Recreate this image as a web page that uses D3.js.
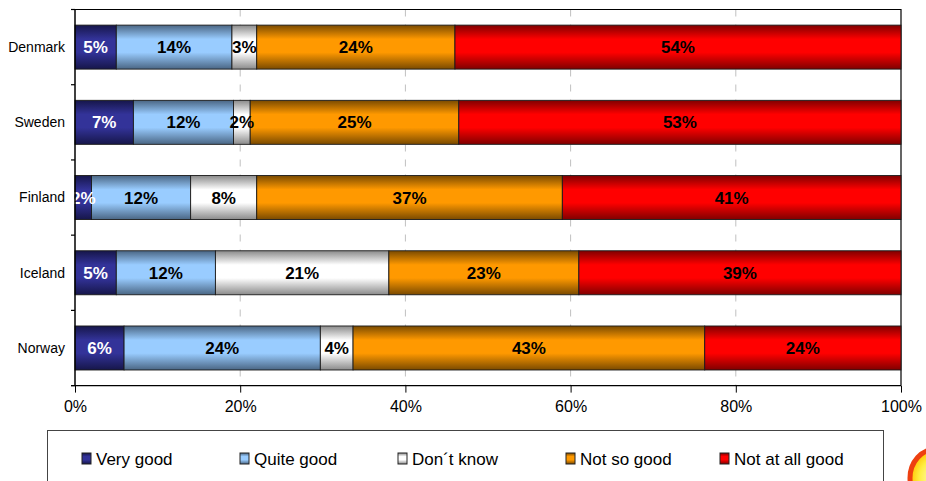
<!DOCTYPE html>
<html>
<head>
<meta charset="utf-8">
<script src="https://cdn.jsdelivr.net/npm/d3@7"></script>
<style>
  html, body { margin: 0; padding: 0; background: #fff; }
  svg { display: block; font-family: "Liberation Sans", Arial, sans-serif; }
</style>
</head>
<body>
<svg id="chart" width="926" height="481"></svg>
<script>
// Survey answers per country, in percent
const countries = ["Denmark", "Sweden", "Finland", "Iceland", "Norway"];
const answers = ["Very good", "Quite good", "Don\u00b4t know", "Not so good", "Not at all good"];
const veryGood    = [5, 7, 2, 5, 6];
const quiteGood   = [14, 12, 12, 12, 24];
const dontKnow    = [3, 2, 8, 21, 4];
const notSoGood   = [24, 25, 37, 23, 43];
const notAtAllGood = [54, 53, 41, 39, 24];
const xTicks = [0, 0.2, 0.4, 0.6, 0.8, 1];

const seriesValues = [veryGood, quiteGood, dontKnow, notSoGood, notAtAllGood];
const colors = ["#333399", "#99ccff", "#ffffff", "#ff9900", "#ff0000"];
const edgeColors = ["#16164a", "#4a6684", "#8a8a8a", "#7a4a00", "#800000"];
const labelColors = ["#ffffff", "#000000", "#000000", "#000000", "#000000"];

// rows normalised to 100% like a percent-stacked bar chart
const rows = countries.map((c, i) => {
  const row = { country: c };
  answers.forEach((a, k) => row[a] = seriesValues[k][i]);
  return row;
});
const stacked = d3.stack().keys(answers).offset(d3.stackOffsetExpand)(rows);

const svg = d3.select("#chart");
const plotLeft = 75, plotRight = 901, plotTop = 9.5, plotBottom = 385.6;

const x = d3.scaleLinear().domain([0, 1]).range([plotLeft, plotRight]);
const y = d3.scaleBand().domain(countries).range([plotTop, plotBottom])
  .paddingInner(0.415).paddingOuter(0.2075);

// cylinder-like vertical gradients for each answer
const defs = svg.append("defs");
answers.forEach((a, k) => {
  const g = defs.append("linearGradient").attr("id", "grad" + k)
    .attr("x1", 0).attr("y1", 0).attr("x2", 0).attr("y2", 1);
  g.append("stop").attr("offset", "0%").attr("stop-color", edgeColors[k]);
  g.append("stop").attr("offset", "32%").attr("stop-color", colors[k]);
  g.append("stop").attr("offset", "62%").attr("stop-color", colors[k]);
  g.append("stop").attr("offset", "100%").attr("stop-color", edgeColors[k]);
});
const glow = defs.append("radialGradient").attr("id", "emblemFill");
glow.append("stop").attr("offset", "0%").attr("stop-color", "#fffbd0");
glow.append("stop").attr("offset", "65%").attr("stop-color", "#ffee40");
glow.append("stop").attr("offset", "100%").attr("stop-color", "#ffc400");

// dashed gridlines
svg.append("g").selectAll("line")
  .data(xTicks.slice(1, -1))
  .join("line")
  .attr("x1", d => x(d)).attr("x2", d => x(d))
  .attr("y1", plotTop).attr("y2", plotBottom)
  .attr("stroke", "#c0c0c0").attr("stroke-width", 1)
  .attr("stroke-dasharray", "7,8");

// plot frame (top and right)
svg.append("path")
  .attr("d", `M${plotLeft},${plotTop}H${plotRight}V${plotBottom}`)
  .attr("fill", "none").attr("stroke", "#000").attr("stroke-width", 1.2);

// bars
stacked.forEach((layer, k) => {
  const g = svg.append("g");
  g.selectAll("rect")
    .data(layer)
    .join("rect")
    .attr("x", d => x(d[0]))
    .attr("y", d => y(d.data.country))
    .attr("width", d => x(d[1]) - x(d[0]))
    .attr("height", y.bandwidth())
    .attr("fill", `url(#grad${k})`)
    .attr("stroke", "#1a1a1a").attr("stroke-width", 0.9);
});

// value labels
stacked.forEach((layer, k) => {
  svg.append("g").selectAll("text")
    .data(layer)
    .join("text")
    .attr("x", d => (x(d[0]) + x(d[1])) / 2)
    .attr("y", d => y(d.data.country) + y.bandwidth() / 2)
    .attr("dy", "0.36em")
    .attr("text-anchor", "middle")
    .attr("font-size", 17).attr("font-weight", "bold")
    .attr("fill", labelColors[k])
    .text(d => d.data[answers[k]] + "%");
});

// x axis
const xAxis = svg.append("g").attr("transform", `translate(0,${plotBottom})`)
  .call(d3.axisBottom(x).tickValues(xTicks).tickFormat(d3.format(".0%")).tickSize(7).tickPadding(8));
xAxis.select(".domain").attr("d", `M${plotLeft - 4},0H${plotRight}`).attr("stroke", "#000").attr("stroke-width", 1.2);
xAxis.selectAll(".tick line").attr("stroke", "#000");
xAxis.selectAll(".tick text").attr("font-size", 16).attr("fill", "#000")
  .attr("font-family", "'Liberation Sans', Arial, sans-serif");

// y axis: line with ticks on category boundaries
const boundaries = countries.map(c => y(c) - y.step() * y.paddingInner() / 2).concat([plotBottom]);
svg.append("line").attr("x1", plotLeft).attr("x2", plotLeft).attr("y1", plotTop).attr("y2", plotBottom)
  .attr("stroke", "#000").attr("stroke-width", 1.5);
svg.append("g").selectAll("line").data(boundaries).join("line")
  .attr("x1", plotLeft - 4).attr("x2", plotLeft).attr("y1", d => d).attr("y2", d => d)
  .attr("stroke", "#000").attr("stroke-width", 1.2);
svg.append("g").selectAll("text").data(countries).join("text")
  .attr("x", 65)
  .attr("y", d => y(d) + y.bandwidth() / 2)
  .attr("dy", "0.35em")
  .attr("text-anchor", "end")
  .attr("font-size", 14).attr("fill", "#000")
  .text(d => d);

// legend
svg.append("rect").attr("x", 47.5).attr("y", 430.5).attr("width", 836).attr("height", 60)
  .attr("fill", "#fff").attr("stroke", "#444").attr("stroke-width", 1);
const legendX = [82, 240, 398, 566, 720];
const lg = svg.append("g").selectAll("g").data(answers).join("g")
  .attr("transform", (d, i) => `translate(${legendX[i]},459)`);
lg.append("rect").attr("x", 0).attr("y", -6).attr("width", 9).attr("height", 11)
  .attr("fill", (d, i) => `url(#grad${i})`).attr("stroke", "#222").attr("stroke-width", 1);
lg.append("text").attr("x", 14).attr("y", 0).attr("dy", "0.36em")
  .attr("font-size", 17).attr("fill", "#000")
  .text(d => d);

// corner emblem
svg.append("ellipse").attr("cx", 936).attr("cy", 478).attr("rx", 26).attr("ry", 29)
  .attr("fill", "url(#emblemFill)").attr("stroke", "#ee4010").attr("stroke-width", 5);
</script>
</body>
</html>
